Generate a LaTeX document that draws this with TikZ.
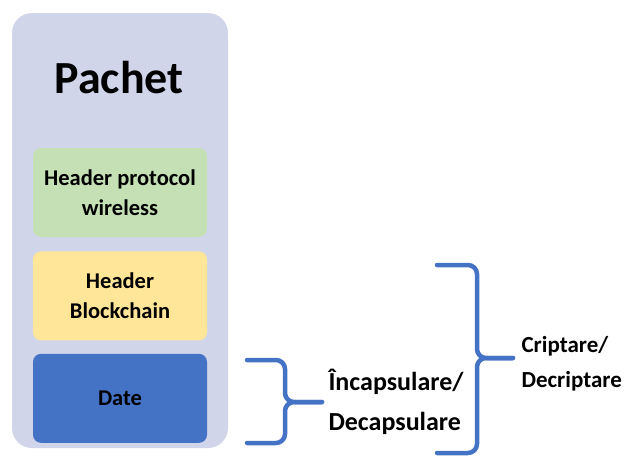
\documentclass[tikz,border=0pt]{standalone}
\usepackage{fontspec}
\setmainfont{Carlito}
\usetikzlibrary{positioning}
\definecolor{packbg}{RGB}{208,213,234}
\definecolor{wlgreen}{RGB}{197,224,180}
\definecolor{bcyellow}{RGB}{255,230,153}
\definecolor{dateblue}{RGB}{68,114,196}

\begin{document}
\begin{tikzpicture}[x=1pt,y=-1pt,node distance=14pt,
    layer/.style={rounded corners=8pt,minimum width=174pt,minimum height=89pt,
        align=center,font=\bfseries\fontsize{22.5}{30}\selectfont},
    curly/.style={draw=dateblue,line width=4.5pt,rounded corners=9pt,line cap=round}]
  \useasboundingbox (0,0) rectangle (633,458);
  % packet frame
  \fill[packbg,rounded corners=20pt] (12,13) rectangle (228,448);
  \node[font=\bfseries\fontsize{46}{50}\selectfont] (pachet) at (119,78) {Pachet};
  \path (120,192.5) node[layer,fill=wlgreen] (wireless) {Header protocol\\wireless};
  \node[layer,fill=bcyellow] (blockchain) [below=of wireless] {Header\\Blockchain};
  \node[layer,fill=dateblue] (date) [below=13pt of blockchain] {Date};
  % small brace
  \coordinate (enc_t) at (247,360);
  \coordinate (enc_b) at (247,443);
  \coordinate (enc_tip) at (322,402);
  \draw[curly] (enc_t) -- (285,360) -- (285,402) -- (enc_tip);
  \draw[curly] (enc_b) -- (285,443) -- (285,402) -- (enc_tip);
  \node[anchor=west,align=left,font=\bfseries\fontsize{26}{40}\selectfont] (encap)
      at ([xshift=3pt]enc_tip) {Încapsulare/\\Decapsulare};
  % big brace
  \coordinate (cr_t) at (437,265);
  \coordinate (cr_b) at (437,453);
  \coordinate (cr_tip) at (513,358);
  \draw[curly] (cr_t) -- (477,265) -- (477,358) -- (cr_tip);
  \draw[curly] (cr_b) -- (477,453) -- (477,358) -- (cr_tip);
  \node[anchor=west,align=left,font=\bfseries\fontsize{23}{35}\selectfont] (cript)
      at ([xshift=5pt,yshift=-6pt]cr_tip) {Criptare/\\Decriptare};
\end{tikzpicture}
\end{document}
